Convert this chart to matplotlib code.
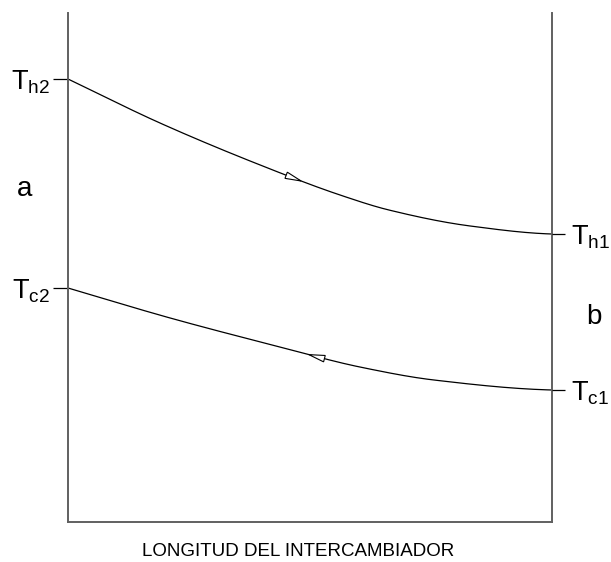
import numpy as np
import matplotlib.pyplot as plt
from matplotlib.patches import Polygon

plt.rcParams['font.family'] = 'Liberation Sans'
plt.rcParams['mathtext.fontset'] = 'custom'
plt.rcParams['mathtext.rm'] = 'Liberation Sans'
plt.rcParams['mathtext.it'] = 'Liberation Sans'

# posicion a lo largo del intercambiador (0..1) y temperatura (unidades arbitrarias, 0..509)
x_hot = [0.0, 0.19, 0.397, 0.562, 0.663, 0.831, 1.0]
t_hot = [443, 399, 357, 327, 312, 296, 288]
x_cold = [0.0, 0.211, 0.438, 0.603, 0.756, 1.0]
t_cold = [234, 204, 175, 155, 142, 132]

left_labels = [r'T$_{\mathregular{h2}}$', r'T$_{\mathregular{c2}}$']
right_labels = [r'T$_{\mathregular{h1}}$', r'T$_{\mathregular{c1}}$']
xlabel = 'LONGITUD DEL INTERCAMBIADOR'


def pchip(x, y, xs):
    # interpolacion monotona para dibujar la curva suave
    x = np.asarray(x, float)
    y = np.asarray(y, float)
    h = np.diff(x)
    d = np.diff(y) / h
    m = np.zeros_like(y)
    for k in range(1, len(x) - 1):
        if d[k - 1] * d[k] > 0:
            w1 = 2 * h[k] + h[k - 1]
            w2 = h[k] + 2 * h[k - 1]
            m[k] = (w1 + w2) / (w1 / d[k - 1] + w2 / d[k])
    m[0] = d[0]
    m[-1] = d[-1] * 0.3
    out = np.empty_like(xs)
    for j, xv in enumerate(xs):
        k = min(np.searchsorted(x, xv, side='right') - 1, len(x) - 2)
        t = (xv - x[k]) / h[k]
        h00 = 2 * t**3 - 3 * t**2 + 1
        h10 = t**3 - 2 * t**2 + t
        h01 = -2 * t**3 + 3 * t**2
        h11 = t**3 - t**2
        out[j] = h00 * y[k] + h10 * h[k] * m[k] + h01 * y[k + 1] + h11 * h[k] * m[k + 1]
    return out


fig = plt.figure(figsize=(6.11, 5.62), dpi=100)
ax = fig.add_axes([68 / 611, 40 / 562, 484 / 611, 509 / 562])
ax.set_xlim(0, 1)
ax.set_ylim(0, 509)

xs = np.linspace(0, 1, 400)
hot = pchip(x_hot, t_hot, xs)
cold = pchip(x_cold, t_cold, xs)
ax.plot(xs, hot, color='black', lw=0.9)
ax.plot(xs, cold, color='black', lw=0.9)


def arrow(xc, yy, direction):
    # triangulo abierto sobre la curva, en pixeles
    i = np.argmin(abs(xs - xc))
    p0 = ax.transData.transform((xs[i], yy[i]))
    p1 = ax.transData.transform((xs[i + 5], yy[i + 5]))
    d = (p1 - p0) / np.hypot(*(p1 - p0)) * direction
    n = np.array([-d[1], d[0]])
    tip = p0 + d * 8
    base = p0 - d * 8
    pts = [tip, base + n * 3.3, base - n * 3.3]
    pts = ax.transData.inverted().transform(pts)
    ax.add_patch(Polygon(pts, closed=True, facecolor='white', edgecolor='black', lw=0.8, zorder=5))


arrow(0.467, hot, 1)
arrow(0.514, cold, -1)

for s in ['left', 'right', 'bottom']:
    ax.spines[s].set_color('#606060')
    ax.spines[s].set_linewidth(1.4)
ax.spines['top'].set_visible(False)

ax.set_xticks([])
ax.set_yticks([t_hot[0], t_cold[0]])
ax.set_yticklabels(left_labels, fontsize=19.5)
ax.tick_params(axis='y', length=10.8, width=0.9, color='black', pad=2.5)

ax2 = ax.twinx()
ax2.set_ylim(0, 509)
ax2.set_yticks([t_hot[-1], t_cold[-1]])
ax2.set_yticklabels(right_labels, fontsize=19.5)
ax2.tick_params(axis='y', length=9.4, width=0.9, color='black', pad=4)
for s in ax2.spines.values():
    s.set_visible(False)

ax.text(-0.089, 333, 'a', fontsize=20, ha='center', va='center', clip_on=False)
ax.text(1.087, 205, 'b', fontsize=20, ha='center', va='center', clip_on=False)
fig.text(298 / 611, 1 - 551 / 562, xlabel, fontsize=13.5, ha='center', va='center')

fig.savefig('out.png', dpi=100)
